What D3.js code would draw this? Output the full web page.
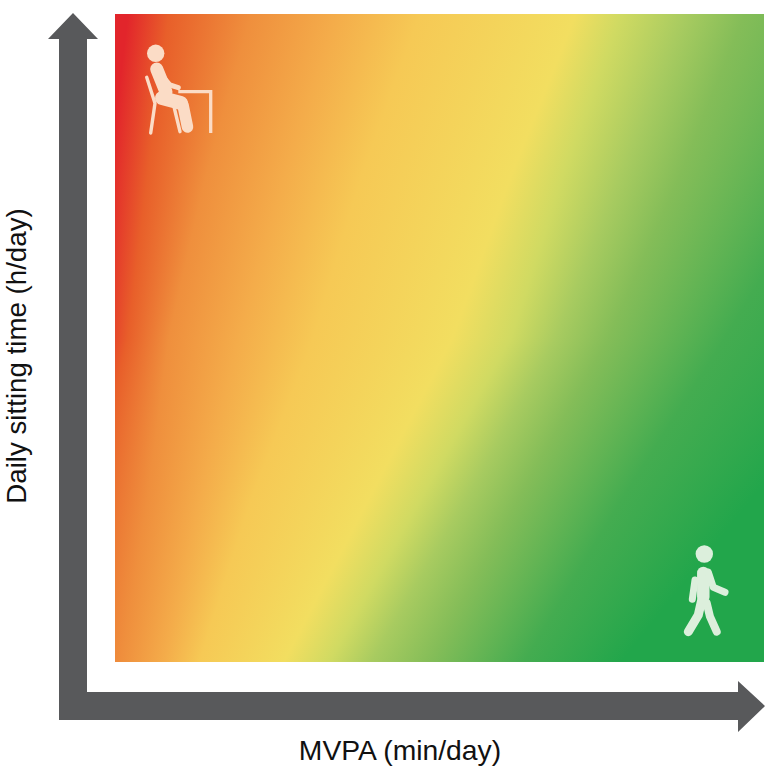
<!DOCTYPE html>
<html><head><meta charset="utf-8">
<script src="https://cdn.jsdelivr.net/npm/d3@7"></script>
<style>html,body{margin:0;padding:0;background:#fff}svg{display:block}</style>
</head><body><div id="chart"></div>
<script>
const xAxisLabel = "MVPA (min/day)";
const yAxisLabel = "Daily sitting time (h/day)";
// colour bands of the field, from worst to best
const bandColors = ["#e2252b","#e85f2a","#ef8f3d","#f4ac4a","#f6c955","#f2de60","#d0da62","#a8cb60","#84bd58","#44ac50","#22a64b"];
// picture rows, as a share of the sitting axis (1 = top)
const rowLevels = [1, 0.75, 0.5, 0.25, 0];
// where each band is centred along MVPA in each row (0..1 of the axis)
const bandAt1    = [0.02,0.083,0.21,0.34,0.47,0.71,0.78,0.88,0.97,1.25,1.50];
const bandAt075  = [-0.01,0.05,0.14,0.26,0.38,0.61,0.69,0.78,0.87,1.09,1.34];
const bandAt05   = [-0.03,0.02,0.083,0.19,0.306,0.52,0.61,0.68,0.76,0.94,1.20];
const bandAt025  = [-0.12,-0.04,0.05,0.13,0.21,0.39,0.47,0.54,0.62,0.78,0.98];
const bandAt0    = [-0.21,-0.09,0.01,0.075,0.13,0.26,0.33,0.395,0.485,0.63,0.78];
const bandRows = [bandAt1,bandAt075,bandAt05,bandAt025,bandAt0];

const W=771,H=771;
const plot={l:115,r:764,t:14,b:662};
const svg=d3.select("#chart").append("svg").attr("width",W).attr("height",H);
const x=d3.scaleLinear().domain([0,1]).range([plot.l,plot.r]);
const y=d3.scaleLinear().domain([0,1]).range([plot.b,plot.t]);
const bandScales=bandColors.map((c,i)=>d3.scaleLinear().domain(rowLevels).range(bandRows.map(r=>r[i])));

const stripH=2;
const strips=d3.range(plot.t,plot.b,stripH);
const defs=svg.append("defs");
const grads=defs.selectAll("linearGradient").data(strips).join("linearGradient")
  .attr("id",(d,i)=>"g"+i).attr("gradientUnits","userSpaceOnUse")
  .attr("x1",x(-0.3)).attr("x2",x(1.6)).attr("y1",0).attr("y2",0);
const u=d3.scaleLinear().domain([-0.3,1.6]).range([0,1]);
grads.selectAll("stop").data(d=>bandColors.map((c,i)=>({c,o:u(bandScales[i](y.invert(d+stripH/2)))})))
  .join("stop").attr("offset",d=>d.o).attr("stop-color",d=>d.c);
svg.append("g").attr("shape-rendering","crispEdges").selectAll("rect").data(strips).join("rect")
  .attr("x",plot.l).attr("y",d=>d).attr("width",plot.r-plot.l).attr("height",stripH)
  .attr("fill",(d,i)=>`url(#g${i})`);

// axis arrows
const grey="#58595b";
svg.append("path").attr("fill",grey).attr("d","M59 720V39H48L73 13L98 39H87V692H738V681L765 706L738 732V720Z");

// axis labels
svg.append("text").attr("x",400).attr("y",760).attr("text-anchor","middle")
  .attr("font-family","Liberation Sans, Arial, sans-serif").attr("font-size",28.3).attr("fill","#111").text(xAxisLabel);
svg.append("text").attr("transform","translate(26,356) rotate(-90)").attr("text-anchor","middle")
  .attr("font-family","Liberation Sans, Arial, sans-serif").attr("font-size",27.7).attr("fill","#111").text(yAxisLabel);

// sitting figure
const sit=svg.append("g").attr("fill","none").attr("stroke","#fbdcc6").attr("stroke-linecap","round").attr("stroke-linejoin","round");
sit.append("circle").attr("cx",155.7).attr("cy",53.3).attr("r",8.7).attr("fill","#fbdcc6").attr("stroke","none");
sit.append("path").attr("stroke-width",13).attr("d","M156.700 69L166 92");
sit.append("path").attr("stroke-width",5).attr("d","M161.700 75L170 85L178.300 87.700");
sit.append("path").attr("stroke-width",14).attr("d","M162 98L181 103");
sit.append("path").attr("stroke-width",11.5).attr("d","M183 105L187.500 127");
sit.append("path").attr("stroke-width",3.4).attr("d","M146.700 77.300L155 103.300M155 103.300L150.700 133M174.300 108L180 131.700");
sit.append("path").attr("stroke-width",3.3).attr("stroke-linecap","butt").attr("stroke-linejoin","miter").attr("d","M178.300 91.700H210.700V133");

// walking figure
const walk=svg.append("g").attr("fill","none").attr("stroke","#dcefdc").attr("stroke-linecap","round").attr("stroke-linejoin","round");
walk.append("circle").attr("cx",704.3).attr("cy",554).attr("r",8.7).attr("fill","#dcefdc").attr("stroke","none");
walk.append("path").attr("stroke-width",12.5).attr("d","M703.300 573L703.300 597");
walk.append("path").attr("stroke-width",7).attr("d","M708.300 572L713.300 587.300L725 592.300");
walk.append("path").attr("stroke-width",7).attr("d","M695 580L692.300 599.300");
walk.append("path").attr("stroke-width",9).attr("d","M701.700 600L698.300 615L688.300 631.700");
walk.append("path").attr("stroke-width",8).attr("d","M706.700 603L710 616.700L716.700 631.700");
</script></body></html>
